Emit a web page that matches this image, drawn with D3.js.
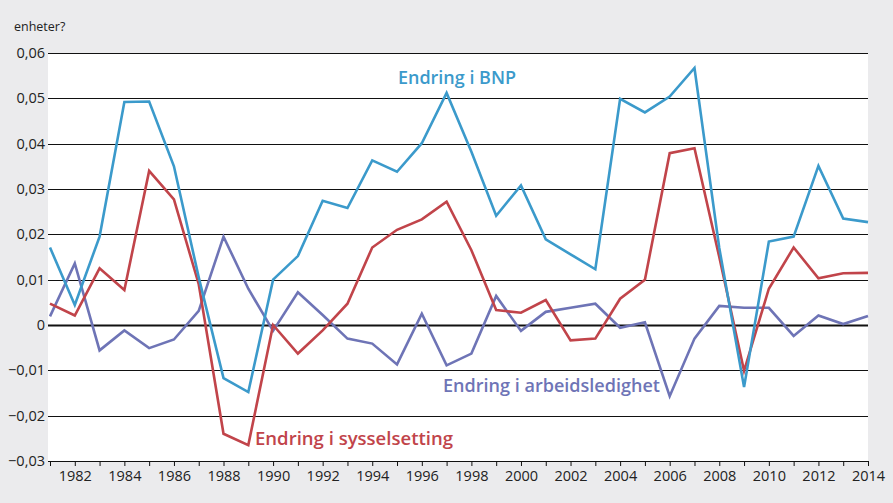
<!DOCTYPE html>
<html><head><meta charset="utf-8">
<script src="https://cdn.jsdelivr.net/npm/d3@7/dist/d3.min.js"></script>
<style>
html,body{margin:0;padding:0;background:#ebebed;}
svg{display:block;font-family:"Open Sans",sans-serif;}
</style></head>
<body>
<svg id="c" width="893" height="503"></svg>
<script>
const years = d3.range(1981, 2015);
const bnp = [0.0171,0.0044,0.0195,0.0492,0.0493,0.0350,0.0105,-0.0117,-0.0148,0.0100,
  0.0152,0.0274,0.0258,0.0363,0.0338,0.0401,0.0512,0.0382,0.0241,0.0308,
  0.0189,0.0156,0.0123,0.0499,0.0469,0.0504,0.0567,0.0170,-0.0137,0.0184,
  0.0195,0.0351,0.0235,0.0227];
const sysselsetting = [0.0047,0.0021,0.0125,0.0077,0.0340,0.0277,0.0090,-0.0240,-0.0265,0.0000,
  -0.0063,-0.0012,0.0047,0.0171,0.0210,0.0233,0.0272,0.0165,0.0033,0.0027,
  0.0055,-0.0034,-0.0030,0.0058,0.0100,0.0379,0.0390,0.0150,-0.0101,0.0080,
  0.0171,0.0103,0.0114,0.0115];
const arbeidsledighet = [0.0019,0.0136,-0.0056,-0.0012,-0.0051,-0.0032,0.0031,0.0195,0.0080,-0.0013,
  0.0072,0.0022,-0.0030,-0.0041,-0.0087,0.0025,-0.0089,-0.0063,0.0064,-0.0013,
  0.0029,0.0038,0.0047,-0.0006,0.0006,-0.0157,-0.0030,0.0042,0.0038,0.0038,
  -0.0024,0.0021,0.0002,0.0020];
const yTicks = [-0.03,-0.02,-0.01,0,0.01,0.02,0.03,0.04,0.05,0.06];
const xLabelYears = d3.range(1982, 2015, 2);
const seriesNames = ["Endring i BNP","Endring i sysselsetting","Endring i arbeidsledighet"];
const colors = ["#3b9acb","#c1444a","#6e74b6"];

const svg = d3.select("#c");
const L = 48, R = 868, T = 53, B = 461;
const x = d3.scaleLinear().domain([1981, 2014]).range([50, R]);
const y = d3.scaleLinear().domain([-0.03, 0.06]).range([B, T]);

svg.append("rect").attr("x", L).attr("y", T).attr("width", R - L).attr("height", B - T).attr("fill", "#fff");

// grid
svg.append("g").selectAll("line").data(yTicks.filter(v => v !== -0.03)).join("line")
  .attr("x1", L).attr("x2", R)
  .attr("y1", d => Math.round(y(d)) + 0.5).attr("y2", d => Math.round(y(d)) + 0.5)
  .attr("stroke", "#111").attr("stroke-width", d => d === 0 ? 2.2 : 1);

// y labels
svg.append("g").selectAll("text").data(yTicks).join("text")
  .attr("x", 45).attr("y", d => y(d) + 5)
  .attr("text-anchor", "end").attr("font-size", 14.5).attr("fill", "#222")
  .text(d => d === 0 ? "0" : d3.format(".2f")(d).replace("-", "-").replace(".", ","));

svg.append("text").attr("x", 14).attr("y", 31).attr("font-size", 12.5).attr("fill", "#222").text("enheter?");

// x axis
const xAxis = d3.axisBottom(x).tickValues(years).tickSize(5).tickFormat(d => xLabelYears.includes(d) ? d : "");
const gx = svg.append("g").attr("transform", `translate(0,${B})`).call(xAxis);
gx.select(".domain").attr("stroke", "#111").attr("d", `M${L},0.5H${R}`);
gx.selectAll(".tick line").attr("stroke", "#111");
gx.selectAll(".tick text").attr("font-size", 14.5).attr("fill", "#222").attr("dy", "0.85em")
  .attr("font-family", "'Open Sans',sans-serif");

// lines
const data = [bnp, sysselsetting, arbeidsledighet];
const line = d3.line().x((d, i) => x(years[i])).y(d => y(d));
[2, 1, 0].forEach(k => {
  svg.append("path").datum(data[k]).attr("d", line)
    .attr("fill", "none").attr("stroke", colors[k]).attr("stroke-width", 2.6)
    .attr("stroke-linejoin", "miter");
});

// labels
const lab = [
  {t: seriesNames[0], x: 398, y: 84, w: 118},
  {t: seriesNames[1], x: 255, y: 445, w: 198},
  {t: seriesNames[2], x: 443, y: 392, w: 217}
];
lab.forEach((l, k) => {
  svg.append("text").attr("x", l.x).attr("y", l.y).attr("font-size", 17.5)
    .attr("font-weight", 600).attr("fill", colors[k])
    .attr("textLength", l.w).attr("lengthAdjust", "spacingAndGlyphs").text(l.t);
});
</script>
</body></html>
